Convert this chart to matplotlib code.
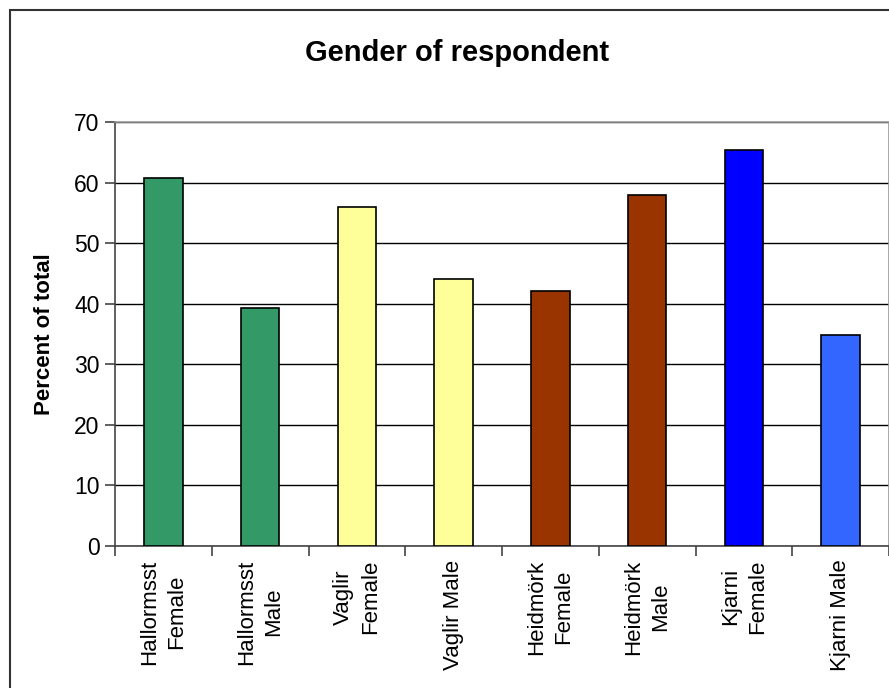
import matplotlib.pyplot as plt
import matplotlib.patches as mpatches
import numpy as np

plt.rcParams["font.family"] = ["Liberation Sans", "DejaVu Sans"]

labels = [
    "Hallormsst\nFemale", "Hallormsst\nMale", "Vaglir\nFemale", "Vaglir Male",
    "Heidmörk\nFemale", "Heidmörk\nMale", "Kjarni\nFemale", "Kjarni Male",
]
percent = [60.8, 39.3, 56.0, 44.0, 42.1, 57.9, 65.3, 34.9]
colors = ["#339966", "#339966", "#FFFF99", "#FFFF99",
          "#993300", "#993300", "#0000FF", "#3366FF"]

W, H = 889, 688
fig = plt.figure(figsize=(W / 100, H / 100), dpi=100)
ax = fig.add_axes([115 / W, 1 - 546 / H, 774 / W, 424 / H])

# outer chart frame
fig.patches.append(mpatches.Rectangle(
    (10 / W, -0.05), 1.0, 1 - 10 / H + 0.05, transform=fig.transFigure,
    fill=False, edgecolor="#333333", linewidth=1.5, clip_on=False))

x = np.arange(len(labels))
ax.bar(x, percent, 0.4, color=colors, edgecolor="black", linewidth=1.2, zorder=3)

ax.set_xlim(-0.5, len(labels) - 0.5)
ax.set_ylim(0, 70)
ax.set_yticks(range(0, 71, 10))
ax.yaxis.grid(True, color="black", linewidth=1.0)
ax.set_axisbelow(True)

ax.set_xticks(np.arange(len(labels) + 1) - 0.5)
ax.set_xticklabels([])
ax.tick_params(axis="x", length=7, color="#444444", width=1.2)
ax.tick_params(axis="y", length=7, color="#444444", width=1.2, labelsize=16.5,
               pad=4)
for i, lab in enumerate(labels):
    ax.text(i, -0.032, lab, transform=ax.get_xaxis_transform(), rotation=90,
            ha="center", va="top", multialignment="center", fontsize=16,
            linespacing=1.4)

for s in ["left", "bottom"]:
    ax.spines[s].set_color("#444444")
    ax.spines[s].set_linewidth(1.2)
for s in ["top", "right"]:
    ax.spines[s].set_color("#999999")
    ax.spines[s].set_linewidth(1.2)

ax.set_ylabel("Percent of total", fontsize=16, fontweight="bold", labelpad=14)
fig.text(457 / W, 1 - 53 / H, "Gender of respondent", ha="center", va="center",
         fontsize=21, fontweight="bold")

fig.savefig("out.png", dpi=100)
